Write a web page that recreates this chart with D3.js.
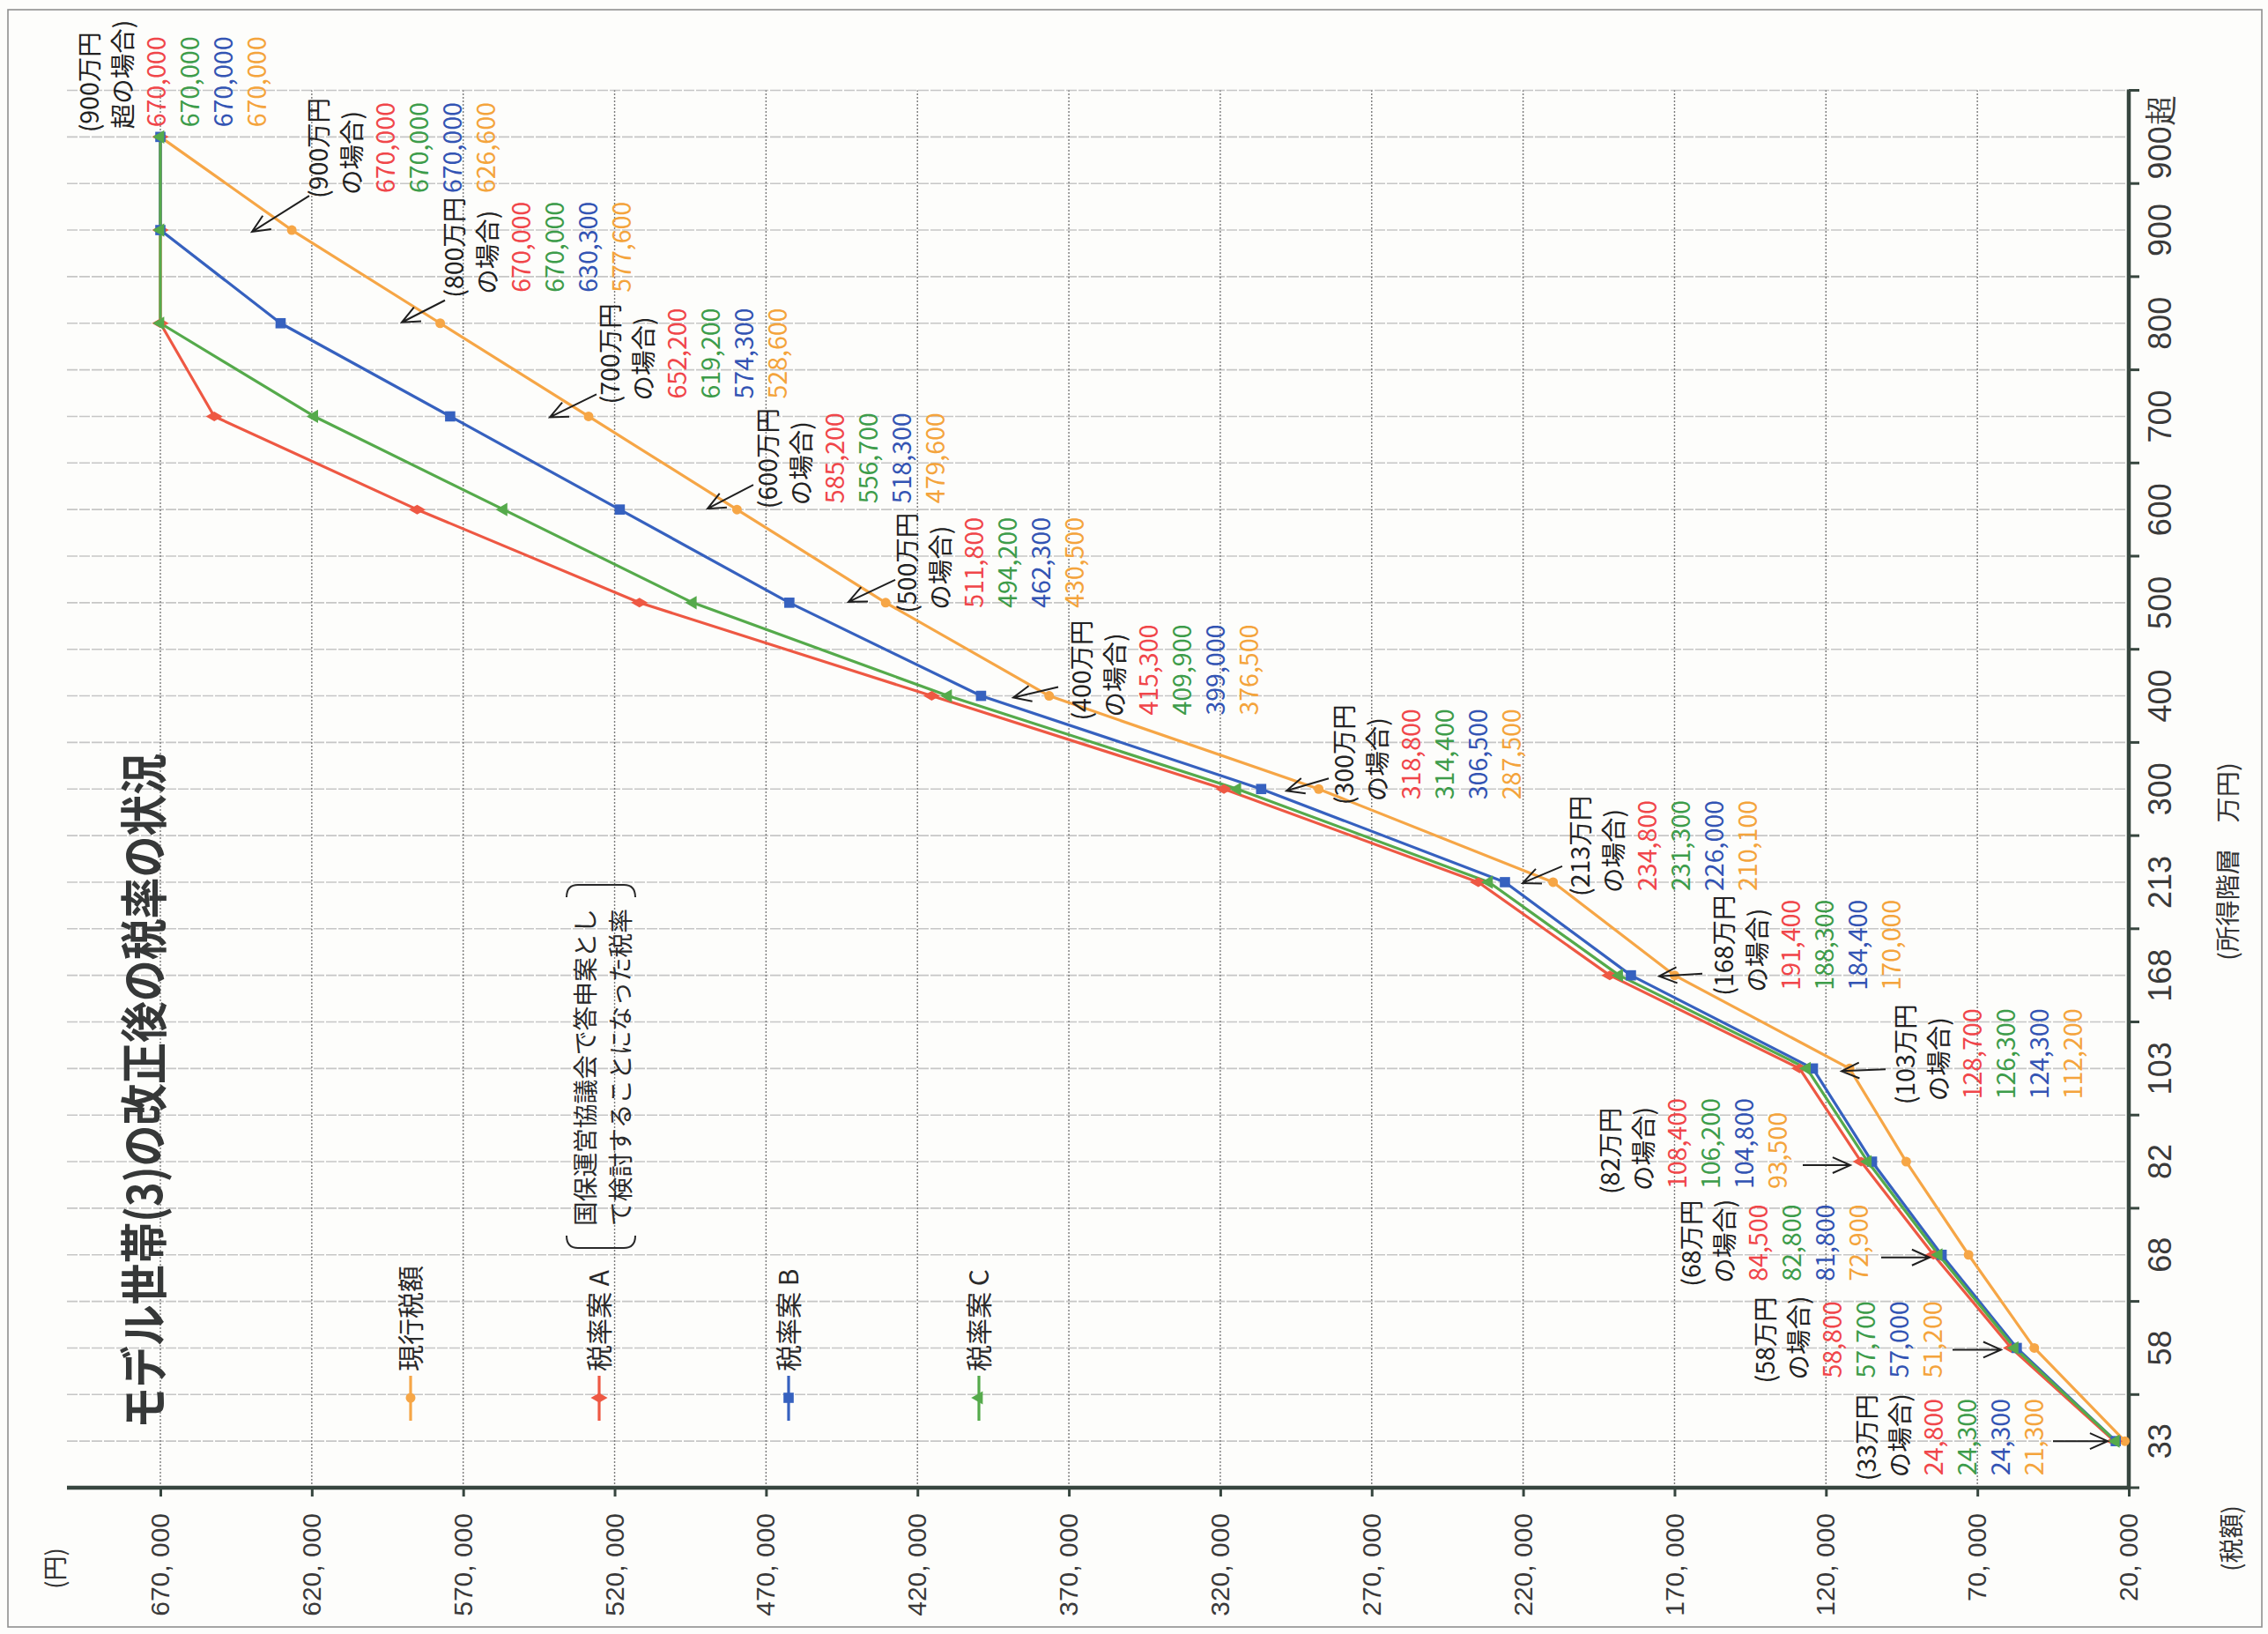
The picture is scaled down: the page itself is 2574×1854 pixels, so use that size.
<!DOCTYPE html>
<html lang="ja">
<head>
<meta charset="utf-8">
<title>モデル世帯(3)の改正後の税率の状況</title>
<script src="https://cdn.jsdelivr.net/npm/d3@7/dist/d3.min.js"></script>
<style>
  html, body { margin: 0; padding: 0; background: #fdfdfb; }
  svg { display: block; }
  text { font-family: "Noto Sans CJK JP", "Noto Sans", sans-serif; }
</style>
</head>
<body>
<script>
// 所得階層（万円）
const incomeLevels = ["33", "58", "68", "82", "103", "168", "213", "300", "400", "500", "600", "700", "800", "900", "900超"];

// 税額（円）
const currentTax = [21300, 51200, 72900, 93500, 112200, 170000, 210100, 287500, 376500, 430500, 479600, 528600, 577600, 626600, 670000];
const planA      = [24800, 58800, 84500, 108400, 128700, 191400, 234800, 318800, 415300, 511800, 585200, 652200, 670000, 670000, 670000];
const planB      = [24300, 57000, 81800, 104800, 124300, 184400, 226000, 306500, 399000, 462300, 518300, 574300, 630300, 670000, 670000];
const planC      = [24300, 57700, 82800, 106200, 126300, 188300, 231300, 314400, 409900, 494200, 556700, 619200, 670000, 670000, 670000];

// 税額軸の目盛
const taxTicks = [20000, 70000, 120000, 170000, 220000, 270000, 320000, 370000, 420000, 470000, 520000, 570000, 620000, 670000];

const seriesNames = ["現行税額", "税率案A", "税率案B", "税率案C"];
const noteA = ["国保運営協議会で答申案とし", "て検討することになった税率"];

// ---- page / layout ----
const W = 2574, H = 1854;
// the chart is laid out upright in a 1854 x 2574 frame and turned a quarter turn to the left

const series = [
  { name: seriesNames[0], values: currentTax, line: "#f6a646", text: "#f4a43c", symbol: d3.symbolCircle,   size: 95 },
  { name: seriesNames[1], values: planA,      line: "#ee5843", text: "#f0464a", symbol: d3.symbolDiamond,  size: 105 },
  { name: seriesNames[2], values: planB,      line: "#3661bf", text: "#3354b3", symbol: d3.symbolSquare,   size: 135 },
  { name: seriesNames[3], values: planC,      line: "#55aa4b", text: "#3d9c4a", symbol: d3.symbolTriangle, size: 100 },
];
const byName = Object.fromEntries(series.map(s => [s.name, s]));

// callout placement: start offset from band centre, first line position,
// leader tail / head relative to (band centre, first line)
const callouts = [
  { lvl: "33",   dx: -45, y: 2119, tail: [0, 211],   head: [0, 273] },
  { lvl: "58",   dx: -40, y: 2004, tail: [-2, 212],  head: [-2, 267] },
  { lvl: "68",   dx: -36, y: 1920, tail: [-3, 215],  head: [-3, 270] },
  { lvl: "82",   dx: -37, y: 1828, tail: [-4, 218],  head: [-4, 272] },
  { lvl: "103",  dx: -41, y: 2163, tail: [-1, -23],  head: [-3, -73] },
  { lvl: "168",  dx: -23, y: 1957, tail: [2, -25],   head: [-1, -74] },
  { lvl: "213",  dx: -16, y: 1794, tail: [18, -21],  head: [-1, -66] },
  { lvl: "300",  dx: -18, y: 1526, tail: [12, -18],  head: [-2, -66] },
  { lvl: "400",  dx: -28, y: 1228, tail: [10, -27],  head: [-2, -78] },
  { lvl: "500",  dx: -12, y: 1030, tail: [26, -14],  head: [1, -67] },
  { lvl: "600",  dx: 1,   y: 872,  tail: [28, -17],  head: [1, -69] },
  { lvl: "700",  dx: 14,  y: 693,  tail: [25, -16],  head: [-1, -69] },
  { lvl: "800",  dx: 29,  y: 516,  tail: [26, -11],  head: [1, -60] },
  { lvl: "900",  dx: 36,  y: 362,  tail: [39, -11],  head: [-2, -76] },
  { lvl: "900超", dx: 5,  y: 102,  tail: null,       head: null },
];

const svg = d3.select("body").append("svg")
  .attr("width", W).attr("height", H)
  .attr("viewBox", `0 0 ${W} ${H}`);

svg.append("rect").attr("width", W).attr("height", H).attr("fill", "#fdfdfb");

// page frame
svg.append("rect")
  .attr("x", 9).attr("y", 11).attr("width", 2558).attr("height", 1835)
  .attr("fill", "none").attr("stroke", "#8f8f8f").attr("stroke-width", 1.6);

const g = svg.append("g").attr("transform", `translate(0,${H}) rotate(-90)`);

// ---- scales ----
const left = 166, right = 1751.5, bottom = 2416, plotTop = 76;
const x = d3.scaleBand().domain(incomeLevels).range([left, right]).padding(0);
const bw = x.bandwidth();
const cx = lvl => x(lvl) + bw / 2;
const y = d3.scaleLinear().domain([20000, 670000]).range([bottom, 182]);

// ---- grid ----
const grid = g.append("g");
const vLines = [];
incomeLevels.forEach(l => { vLines.push(x(l)); vLines.push(cx(l)); });
vLines.push(right);
grid.selectAll("line.inc").data(vLines.filter(v => v > left + 1)).join("line")
  .attr("class", "inc")
  .attr("x1", d => d).attr("x2", d => d)
  .attr("y1", plotTop).attr("y2", bottom)
  .attr("stroke", "#c6c6c6").attr("stroke-width", 1.6)
  .attr("stroke-dasharray", "12,2");

grid.selectAll("line.tax").data(taxTicks.filter(t => t > 20000)).join("line")
  .attr("class", "tax")
  .attr("x1", left).attr("x2", right)
  .attr("y1", d => y(d)).attr("y2", d => y(d))
  .attr("stroke", "#7a7a7a").attr("stroke-width", 1.4)
  .attr("stroke-dasharray", "2,2");

// ---- axes ----
const axisColor = "#37463f";
const fmtTax = d => d3.format(",")(d).replace(",", ", ");

const yAxis = g.append("g").attr("transform", `translate(${left},0)`)
  .call(d3.axisLeft(y).tickValues(taxTicks).tickSize(10).tickSizeOuter(0).tickPadding(19).tickFormat(fmtTax));
yAxis.select(".domain").remove();
yAxis.selectAll(".tick line").attr("stroke", axisColor).attr("stroke-width", 3);
yAxis.selectAll(".tick text")
  .attr("fill", "#3a3a3a")
  .style("font-family", "'Liberation Sans', 'Noto Sans', sans-serif")
  .style("font-size", "30px");

const xAxis = g.append("g").attr("transform", `translate(0,${bottom})`)
  .call(d3.axisBottom(x).tickSize(0).tickPadding(22));
xAxis.select(".domain").remove();
xAxis.selectAll(".tick text")
  .attr("fill", "#3a3a3a")
  .style("font-family", "'Liberation Sans Narrow', 'Arial Narrow', 'Liberation Sans', sans-serif")
  .style("font-stretch", "condensed")
  .style("font-size", "36px");

// band boundary ticks
const bounds = incomeLevels.map(l => x(l)).concat([right]);
g.selectAll("line.btick").data(bounds).join("line")
  .attr("class", "btick")
  .attr("x1", d => d).attr("x2", d => d)
  .attr("y1", bottom).attr("y2", bottom + 12)
  .attr("stroke", axisColor).attr("stroke-width", 3);

// axis lines
g.append("line").attr("x1", left).attr("x2", left).attr("y1", plotTop).attr("y2", bottom + 2)
  .attr("stroke", axisColor).attr("stroke-width", 4.5);
g.append("line").attr("x1", left - 2).attr("x2", right + 1).attr("y1", bottom).attr("y2", bottom)
  .attr("stroke", axisColor).attr("stroke-width", 4.5);

// ---- series ----
const line = d3.line().x((d, i) => cx(incomeLevels[i])).y(d => y(d));
const drawOrder = ["現行税額", "税率案A", "税率案B", "税率案C"];
drawOrder.forEach(n => {
  const s = byName[n];
  g.append("path").datum(s.values)
    .attr("d", line).attr("fill", "none")
    .attr("stroke", s.line).attr("stroke-width", 3.2).attr("stroke-linejoin", "round");
});
drawOrder.forEach(n => {
  const s = byName[n];
  g.selectAll(null).data(s.values).join("path")
    .attr("d", d3.symbol(s.symbol, s.size))
    .attr("transform", (d, i) => `translate(${cx(incomeLevels[i])},${y(d)})`)
    .attr("fill", s.line);
});

// ---- callouts ----
const lineGap = 38, fs = 28.5;
const calloutOrder = ["税率案A", "税率案C", "税率案B", "現行税額"];
const headText = l => "(" + l.replace("超", "") + "万円";
const subText = l => (l.endsWith("超") ? "超" : "") + "の場合)";

function arrow(sel, x1, y1, x2, y2) {
  const a = Math.atan2(y2 - y1, x2 - x1), L = 22, s = 0.42;
  const p = d3.path();
  p.moveTo(x1, y1); p.lineTo(x2, y2);
  p.moveTo(x2 - L * Math.cos(a - s), y2 - L * Math.sin(a - s));
  p.lineTo(x2, y2);
  p.lineTo(x2 - L * Math.cos(a + s), y2 - L * Math.sin(a + s));
  sel.append("path").attr("d", p.toString())
    .attr("fill", "none").attr("stroke", "#1f1f1f").attr("stroke-width", 2);
}

const cg = g.append("g");
callouts.forEach(c => {
  const i = incomeLevels.indexOf(c.lvl);
  const c0 = cx(c.lvl);
  const sx = c0 + c.dx;
  const rows = [
    { t: headText(c.lvl), col: "#222", off: 0 },
    { t: subText(c.lvl), col: "#222", off: 4 },
  ].concat(calloutOrder.map(n => ({ t: d3.format(",")(byName[n].values[i]), col: byName[n].text, off: 6 })));
  rows.forEach((r, k) => {
    cg.append("text")
      .attr("x", sx + r.off).attr("y", c.y + k * lineGap + fs * 0.36)
      .attr("fill", r.col).style("font-size", fs + "px")
      .text(r.t);
  });
  if (c.tail) arrow(cg, c0 + c.tail[0], c.y + c.tail[1], c0 + c.head[0], c.y + c.head[1]);
});

// ---- title ----
g.append("text")
  .attr("x", 233).attr("y", 184)
  .attr("textLength", 766).attr("lengthAdjust", "spacingAndGlyphs")
  .attr("fill", "#363838")
  .style("font-size", "54px").style("font-weight", "bold")
  .text("モデル世帯(3)の改正後の税率の状況");

// ---- legend ----
const legendY = [466, 680, 895, 1111];
const lg = g.append("g");
series.forEach((s, k) => {
  const ly = legendY[k];
  lg.append("line").attr("x1", 242).attr("x2", 293).attr("y1", ly).attr("y2", ly)
    .attr("stroke", s.line).attr("stroke-width", 3.2);
  lg.append("path").attr("d", d3.symbol(s.symbol, s.size)).attr("transform", `translate(268,${ly})`)
    .attr("fill", s.line);
  lg.append("text").attr("x", 298).attr("y", ly + 11)
    .attr("fill", "#2a2a2a").style("font-size", "30px")
    .text(s.name.replace(/([A-C])$/, " $1"));
});
// note for 税率案A
noteA.forEach((t, k) => {
  lg.append("text").attr("x", 463).attr("y", 665 + k * 40 + 10)
    .attr("fill", "#2a2a2a").style("font-size", "28px")
    .attr("textLength", 360).attr("lengthAdjust", "spacingAndGlyphs")
    .text(t);
});
lg.append("path").attr("d", "M452,643 Q438,643 438,656 L438,708 Q438,721 452,721")
  .attr("fill", "none").attr("stroke", "#2a2a2a").attr("stroke-width", 2);
lg.append("path").attr("d", "M836,643 Q850,643 850,656 L850,708 Q850,721 836,721")
  .attr("fill", "none").attr("stroke", "#2a2a2a").attr("stroke-width", 2);

// ---- unit labels ----
g.append("text").attr("x", 51).attr("y", 73).attr("fill", "#333").style("font-size", "28px").text("(円)");
g.append("text").attr("x", 71).attr("y", 2543).attr("fill", "#333").style("font-size", "28px").text("(税額)");
g.append("text").attr("x", 764).attr("y", 2539).attr("fill", "#333").style("font-size", "28px")
  .attr("textLength", 225).attr("lengthAdjust", "spacingAndGlyphs")
  .text("(所得階層　万円)");
</script>
</body>
</html>
